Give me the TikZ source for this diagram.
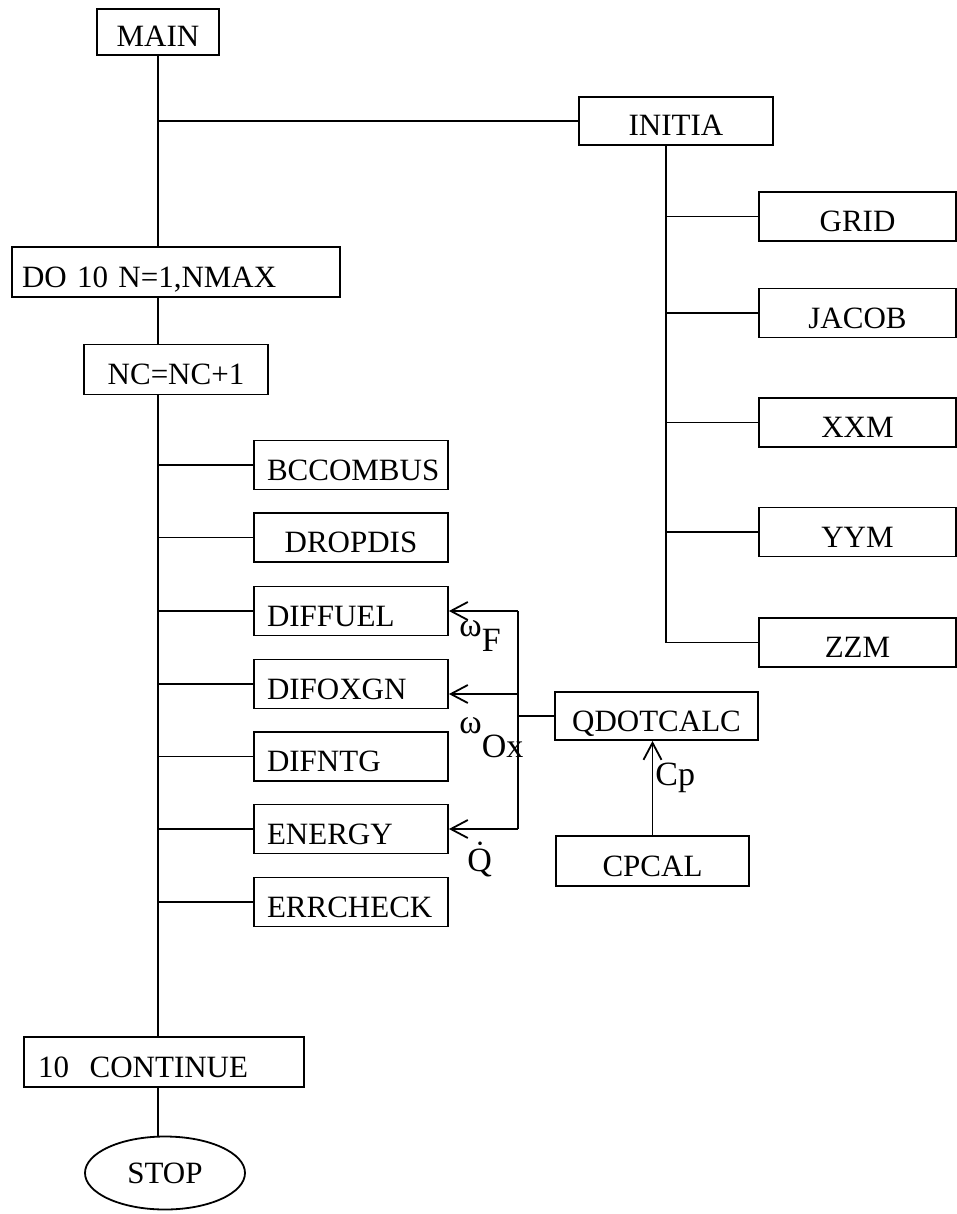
\documentclass[tikz,border=0pt]{standalone}
\usepackage{fontspec}
\setmainfont{Liberation Serif}
\usepackage{tikz}
\usetikzlibrary{positioning, arrows.meta, shapes.geometric}
\newcommand{\chartfont}{\fontsize{15.5}{18}\selectfont}
\newcommand{\labfont}{\fontsize{17}{20}\selectfont}

\begin{document}
\begin{tikzpicture}[x=0.5pt, y=-0.5pt,
                  box/.style={draw, line width=0.9pt, font=\chartfont, inner sep=0pt,
                              text height=15pt, text depth=0pt, text centered},
                  sub/.style={box, minimum width=97pt, minimum height=24.5pt},
                  subl/.style={sub, inner xsep=6.5pt, text width=84pt, align=left},
                  rsub/.style={box, minimum width=98.5pt, minimum height=24.5pt},
                  conn/.style={line width=0.9pt},
                  arr/.style={conn, -{Straight Barb[length=8.5pt, width=9pt]}},
                  lab/.style={font=\labfont, inner sep=0pt, anchor=base west},
            ]
            \useasboundingbox (0,0) rectangle (957,1214);

            % ---- Main column ----
            \node[box, minimum width=61pt, minimum height=23pt] (MAIN) at (158,32) {MAIN};
            \node[box, minimum width=164pt, minimum height=25pt, inner xsep=5pt,
                  text width=154pt, align=left] (DO) at (176,272) {DO 10 N=1,NMAX};
            \node[box, minimum width=92pt, minimum height=25pt] (NC) at (176,369.5) {NC=NC+1};
            \node[box, minimum width=140pt, minimum height=25pt, inner xsep=7pt,
                  text width=126pt, align=left] (CONT) at (164,1062) {10~~CONTINUE};
            \node[draw, ellipse, line width=0.9pt, font=\chartfont, inner sep=0pt,
                  minimum width=80pt, minimum height=36.5pt] (STOP) at (165,1173) {STOP};

            \draw[conn] (MAIN.south) -- (MAIN.south |- DO.north);
            \draw[conn] (MAIN.south |- DO.south) -- (MAIN.south |- NC.north);
            \draw[conn] (MAIN.south |- NC.south) -- (MAIN.south |- CONT.north);
            \draw[conn] (MAIN.south |- CONT.south) -- (MAIN.south |- STOP.north);

            % ---- Subroutines inside the loop ----
            \foreach \n/\st/\y/\lab in {
                        BC/subl/465/BCCOMBUS, DR/sub/537.5/DROPDIS, DF/subl/611/DIFFUEL,
                        DX/subl/684/DIFOXGN, DN/subl/756.5/DIFNTG, EN/subl/829/ENERGY,
                        ER/subl/902/ERRCHECK}{
                        \node[\st] (\n) at (351,\y) {\lab};
                        \draw[conn] (MAIN.south |- \n.west) -- (\n.west);
                  }

            % ---- Initialisation branch (RIGHT) ----
            \node[box, minimum width=97pt, minimum height=24pt] (INI) at (676,121) {INITIA};
            \draw[conn] (MAIN.south |- INI.west) -- (INI.west);
            \coordinate (IT) at ([xshift=-5pt]INI.south);
            \foreach \n/\y/\lab in {
                        GR/216.5/GRID, JA/313/JACOB, XX/422.5/XXM, YY/532/YYM, ZZ/642.5/ZZM}{
                        \node[rsub] (\n) at (857.5,\y) {\lab};
                        \draw[conn] (IT |- \n.west) -- (\n.west);
                  }
            \draw[conn] (IT) -- (IT |- ZZ.west);

            % ---- Source terms ----
            \node[box, minimum width=101.5pt, minimum height=24pt] (QD) at (656.5,716) {QDOTCALC};
            \node[box, minimum width=96.5pt, minimum height=25pt] (CP) at (652.5,861) {CPCAL};
            \draw[arr] (CP.north) -- (CP.north |- QD.south);

            \coordinate (BUS) at ([xshift=-18pt]QD.west);
            \coordinate (DXin) at ([yshift=-5pt]DX.east);
            \draw[conn] (QD.west) -- (BUS);
            \draw[conn] (BUS |- DF.east) -- (BUS |- EN.east);
            \draw[arr] (BUS |- DF.east) -- (DF.east);
            \draw[arr] (BUS |- DXin) -- (DXin);
            \draw[arr] (BUS |- EN.east) -- (EN.east);

            % ---- Labels ----
            \node[lab] (wF) at (459,636) {ω\raisebox{-7.5pt}{F}};
            \node[lab] (wOx) at (459,733) {ω\raisebox{-12pt}{Ox}};
            \node[lab] (Qdot) at (467,871) {\.{Q}};
            \node[lab] (cp) at (655,785) {Cp};

      \end{tikzpicture}
\end{document}
